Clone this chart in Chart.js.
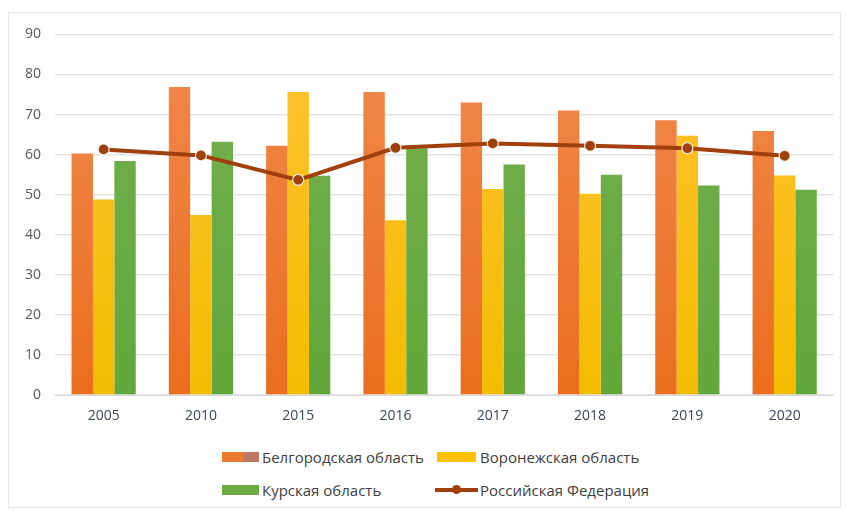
<!DOCTYPE html>
<html>
<head>
<meta charset="utf-8">
<script src="https://cdn.jsdelivr.net/npm/chart.js@4/dist/chart.umd.min.js"></script>
<style>
  html,body{margin:0;padding:0;background:#fff;}
  body{width:849px;height:511px;position:relative;overflow:hidden;font-family:"Open Sans","Noto Sans",sans-serif;}
  #frame{position:absolute;left:8px;top:12px;width:833px;height:496px;border:1px solid #e6e6e6;box-sizing:border-box;}
  #wrap{position:absolute;left:8px;top:12px;width:832px;height:420px;}
  .leg{position:absolute;font-size:15px;color:#404040;line-height:20px;white-space:nowrap;}
  .sw{position:absolute;height:10px;}
  .lsw{position:absolute;height:4px;background:#A0400D;}
  .dot{position:absolute;width:9px;height:9px;border-radius:50%;background:#A0400D;}
</style>
</head>
<body>
<div id="frame"></div>
<div id="wrap"><canvas id="c" width="832" height="420"></canvas></div>

<div class="sw" style="left:222px;top:452px;width:37px;background:linear-gradient(90deg,#EE7A30 0,#EE7A30 55%,#BE7766 60%,#BE7766 100%);"></div>
<div class="leg" id="l0" style="left:262px;top:447px;"></div>
<div class="sw" style="left:437px;top:452px;width:39px;background:#FFC000;"></div>
<div class="leg" id="l1" style="left:480px;top:447px;"></div>
<div class="sw" style="left:222px;top:485px;width:37px;background:#6AAB44;"></div>
<div class="leg" id="l2" style="left:262px;top:480px;"></div>
<div class="lsw" style="left:435px;top:488px;width:43px;"></div>
<div class="dot" style="left:452px;top:485px;"></div>
<div class="leg" id="l3" style="left:480px;top:480px;"></div>

<script>
const categories = ["2005","2010","2015","2016","2017","2018","2019","2020"];
const seriesNames = ["Белгородская область","Воронежская область","Курская область","Российская Федерация"];
const belgorod = [60.3, 76.9, 62.2, 75.6, 73.0, 71.0, 68.6, 65.9];
const voronezh = [48.8, 44.9, 75.6, 43.6, 51.4, 50.2, 64.7, 54.8];
const kursk    = [58.4, 63.2, 54.7, 61.6, 57.5, 55.0, 52.3, 51.2];
const russia   = [61.3, 59.8, 53.7, 61.7, 62.8, 62.2, 61.6, 59.7];
const yTicks   = [0,10,20,30,40,50,60,70,80,90];

seriesNames.forEach((n,i)=>{document.getElementById('l'+i).textContent=n;});

function grad(top,bottom){
  return (ctx)=>{
    const ca = ctx.chart.chartArea;
    if(!ca) return bottom;
    const g = ctx.chart.ctx.createLinearGradient(0,ca.top,0,ca.bottom);
    g.addColorStop(0,top); g.addColorStop(1,bottom);
    return g;
  };
}

new Chart(document.getElementById('c'),{
  type:'bar',
  data:{
    labels:categories,
    datasets:[
      {type:'line',label:seriesNames[3],data:russia,borderColor:'#A0400D',backgroundColor:'#A0400D',
       borderWidth:4,pointRadius:5.5,pointBackgroundColor:'#A0400D',pointBorderColor:'rgba(255,255,255,0.85)',
       pointBorderWidth:1.2,tension:0,order:0},
      {label:seriesNames[0],data:belgorod,backgroundColor:grad('#F08A4E','#EA6E1E'),order:1},
      {label:seriesNames[1],data:voronezh,backgroundColor:grad('#FDC232','#F4BC00'),order:1},
      {label:seriesNames[2],data:kursk,backgroundColor:grad('#74B04F','#62A73B'),order:1}
    ]
  },
  options:{
    responsive:false,
    animation:false,
    layout:{padding:{top:20,right:5,left:0,bottom:0}},
    datasets:{bar:{categoryPercentage:0.66,barPercentage:1.0}},
    plugins:{legend:{display:false},tooltip:{enabled:false}},
    scales:{
      x:{
        grid:{display:false,drawTicks:false},
        border:{display:true,color:'#d9d9d9',width:1},
        ticks:{color:'#3B4656',font:{family:'"Open Sans","Noto Sans",sans-serif',size:14},padding:13},
        afterFit:(s)=>{s.height=37;}
      },
      y:{
        min:0,max:90,
        afterBuildTicks:(s)=>{s.ticks=yTicks.map(v=>({value:v}));},
        grid:{color:'#e3e3e3',lineWidth:1.5,drawTicks:false},
        border:{display:false},
        ticks:{color:'#595959',font:{family:'"Open Sans","Noto Sans",sans-serif',size:14},padding:14},
        afterFit:(s)=>{s.width=47;}
      }
    }
  }
});
</script>
</body>
</html>
